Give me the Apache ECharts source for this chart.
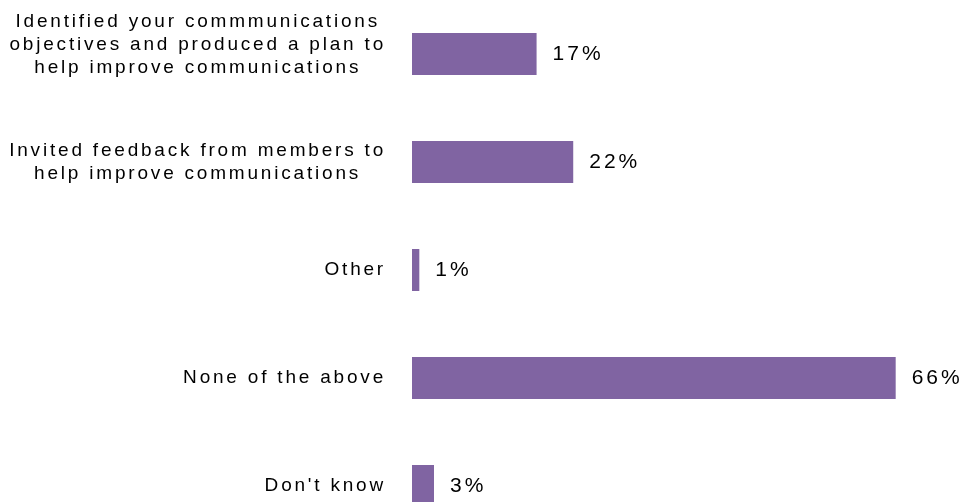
<!DOCTYPE html>
<html>
<head>
<meta charset="utf-8">
<script src="https://cdn.jsdelivr.net/npm/echarts@6/dist/echarts.min.js"></script>
<style>
  html, body { margin: 0; padding: 0; background: #ffffff; }
  #chart { width: 961px; height: 502px; }
</style>
</head>
<body>
<div id="chart"></div>
<script>
// Survey answers (top to bottom) and the share of respondents for each.
const categories = [
  'Identified your commmunications\nobjectives and produced a plan to\nhelp improve communications',
  'Invited feedback from members to\nhelp improve communications',
  'Other',
  'None of the above',
  "Don't know"
];
const values = [17, 22, 1, 66, 3];

// Wide tracking on all text; set before measuring and drawing so the
// label layout accounts for it.
(function () {
  const proto = CanvasRenderingContext2D.prototype;
  if (!('letterSpacing' in proto)) return;
  const trackingFor = font => (/\b21px\b/.test(font) ? '3px' : '2.8px');
  const fill = proto.fillText;
  const measure = proto.measureText;
  proto.fillText = function (t, x, y, w) {
    this.letterSpacing = trackingFor(this.font);
    return w === undefined ? fill.call(this, t, x, y) : fill.call(this, t, x, y, w);
  };
  proto.measureText = function (t) {
    this.letterSpacing = trackingFor(this.font);
    return measure.call(this, t);
  };
})();

// Category labels: lines centred within each right-aligned block;
// the three-line label sits a little higher than its bar.
const categoryLabels = categories.map((name, i) =>
  i === 0 ? { value: name, textStyle: { padding: [0, 0, 18, 0] } } : name
);

const chart = echarts.init(document.getElementById('chart'), null, { renderer: 'canvas' });
chart.setOption({
  animation: false,
  grid: { left: 412, right: 36, top: 0, height: 540, outerBoundsMode: 'none' },
  xAxis: { type: 'value', min: 0, max: 70, show: false },
  yAxis: {
    type: 'category',
    inverse: true,
    data: categoryLabels,
    axisLine: { show: false },
    axisTick: { show: false },
    splitLine: { show: false },
    axisLabel: {
      interval: 0,
      margin: 26,
      align: 'right',
      formatter: v => v.split('\n').map(l => '{c|' + l + '}').join('\n'),
      rich: {
        c: { align: 'center', fontFamily: 'Liberation Sans', fontSize: 19, lineHeight: 23, color: '#000000' }
      }
    }
  },
  series: [{
    type: 'bar',
    data: values,
    barWidth: 42,
    itemStyle: { color: '#8064A2' },
    label: {
      show: true,
      position: 'right',
      distance: 16,
      formatter: '{c}%',
      fontFamily: 'Liberation Sans',
      fontSize: 21,
      color: '#000000'
    }
  }]
});
</script>
</body>
</html>
